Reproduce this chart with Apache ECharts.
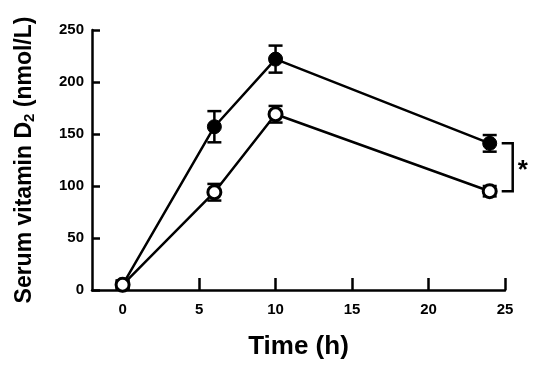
<!DOCTYPE html>
<html><head><meta charset="utf-8">
<script src="https://cdn.jsdelivr.net/npm/echarts@6/dist/echarts.min.js"></script>
<style>html,body{margin:0;padding:0;background:#fff}#c{width:551px;height:368px}</style>
</head><body><div id="c"></div>
<script>
const times = [0, 6, 10, 24];
const filledMean = [5, 157, 222, 141];
const filledErr = [4, 15, 13, 8];
const openMean = [5, 94, 169, 95];
const openErr = [4, 8, 8, 5];
const xTicks = [0, 5, 10, 15, 20, 25];
const yTicks = [0, 50, 100, 150, 200, 250];

const FONT = '"Liberation Sans", Arial, sans-serif';
const chart = echarts.init(document.getElementById('c'));

function errData(means, errs) { return times.map((t, i) => [t, means[i], errs[i]]); }
function errRender(params, api) {
  const x = api.value(0), m = api.value(1), e = api.value(2);
  const top = api.coord([x, m + e]), bot = api.coord([x, m - e]);
  const w = 7;
  const st = { stroke: '#000', lineWidth: 2.5 };
  return { type: 'group', children: [
    { type: 'line', shape: { x1: top[0], y1: top[1], x2: bot[0], y2: bot[1] }, style: st },
    { type: 'line', shape: { x1: top[0] - w, y1: top[1], x2: top[0] + w, y2: top[1] }, style: st },
    { type: 'line', shape: { x1: bot[0] - w, y1: bot[1], x2: bot[0] + w, y2: bot[1] }, style: st }
  ]};
}

const last = times.length - 1;
chart.setOption({
  animation: false,
  grid: { left: 92, right: 46, top: 30, bottom: 78 },
  xAxis: {
    type: 'value', min: -2, max: 25,
    name: 'Time (h)', nameLocation: 'middle', nameGap: 44,
    nameTextStyle: { fontFamily: FONT, fontSize: 26, fontWeight: 'bold', color: '#000' },
    axisLine: { onZero: false, lineStyle: { color: '#000', width: 2.5 } },
    axisTick: { inside: true, length: 12, customValues: xTicks, lineStyle: { color: '#000', width: 2.5 } },
    axisLabel: { customValues: xTicks, margin: 12, fontFamily: FONT, fontSize: 15, fontWeight: 'bold', color: '#000' },
    splitLine: { show: false }
  },
  yAxis: {
    type: 'value', min: 0, max: 250, interval: 50,
    name: 'Serum vitamin D{sub|2} (nmol/L)', nameLocation: 'middle', nameGap: 55,
    nameTextStyle: { fontFamily: FONT, fontSize: 23, fontWeight: 'bold', color: '#000',
      rich: { sub: { fontFamily: FONT, fontSize: 15, fontWeight: 'bold', color: '#000', padding: [10, 0, 0, 0] } } },
    axisLine: { show: true, onZero: false, lineStyle: { color: '#000', width: 2.5 } },
    axisTick: { inside: true, length: 8, lineStyle: { color: '#000', width: 2.5 } },
    axisLabel: { margin: 8, fontFamily: FONT, fontSize: 15, fontWeight: 'bold', color: '#000' },
    splitLine: { show: false }
  },
  series: [
    { type: 'custom', renderItem: errRender, data: errData(filledMean, filledErr), z: 1, silent: true },
    { type: 'custom', renderItem: errRender, data: errData(openMean, openErr), z: 1, silent: true },
    { type: 'line', data: times.map((t, i) => [t, filledMean[i]]), z: 3,
      symbol: 'circle', symbolSize: 14,
      itemStyle: { color: '#000', borderColor: '#000', borderWidth: 1 },
      lineStyle: { color: '#000', width: 2.5 } },
    { type: 'line', data: times.map((t, i) => [t, openMean[i]]), z: 3,
      symbol: 'circle', symbolSize: 13,
      itemStyle: { color: '#fff', borderColor: '#000', borderWidth: 3 },
      lineStyle: { color: '#000', width: 2.5 } },
    { type: 'custom', z: 2, silent: true,
      data: [[times[last], filledMean[last], openMean[last]]],
      renderItem: function (params, api) {
        const p1 = api.coord([api.value(0), api.value(1)]);
        const p2 = api.coord([api.value(0), api.value(2)]);
        const a = p1[0] + 12, b = p1[0] + 23;
        return { type: 'group', children: [
          { type: 'polyline', shape: { points: [[a, p1[1]], [b, p1[1]], [b, p2[1]], [a, p2[1]]] },
            style: { stroke: '#000', lineWidth: 2.5, fill: null } },
          { type: 'text', x: b + 10, y: (p1[1] + p2[1]) / 2 + 4,
            style: { text: '*', fontFamily: FONT, fontSize: 26, fontWeight: 'bold', fill: '#000',
              align: 'center', verticalAlign: 'middle' } }
        ]};
      } }
  ]
});
</script></body></html>
